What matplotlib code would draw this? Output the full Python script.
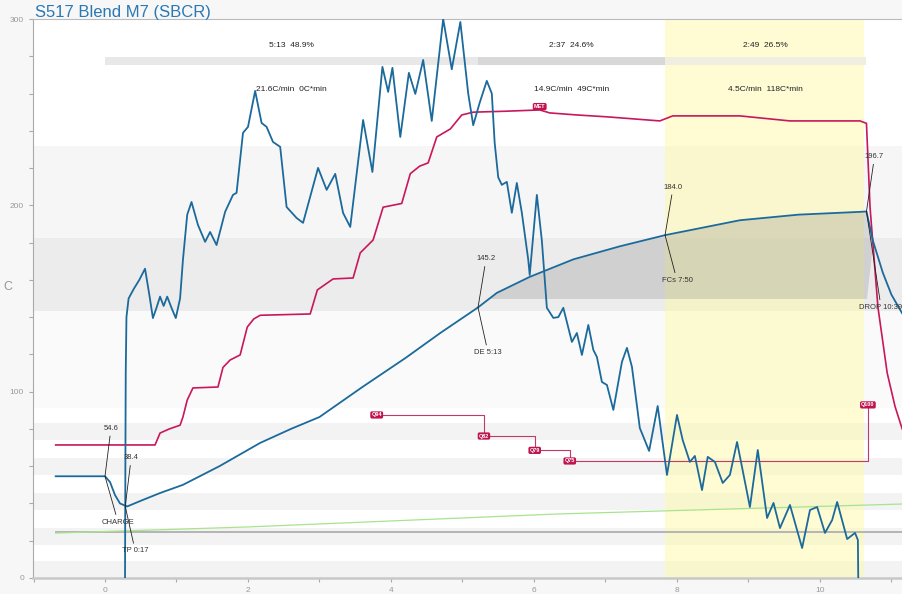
import matplotlib
matplotlib.use('Agg')
import matplotlib.pyplot as plt
import numpy as np

plt.rcParams['font.family'] = ['Liberation Sans', 'DejaVu Sans']

# ---- data ----
title = 'S517 Blend M7 (SBCR)'

bt_t = [-0.69, -0.3, 0.0, 0.07, 0.14, 0.21, 0.31, 0.53, 0.77, 1.09, 1.6, 2.17, 2.6, 3.0, 3.6,
        4.2, 4.69, 5.217, 5.48, 5.94, 6.55, 7.2, 7.833, 8.88, 9.7, 10.56, 10.65, 10.74, 10.88,
        11.0, 11.15]
bt = [54.6, 54.6, 54.6, 51.5, 44.5, 40.0, 38.4, 41.9, 45.6, 50.0, 60.0, 72.5, 80.0, 86.4, 102.5,
      118.0, 131.5, 145.2, 153.0, 161.6, 171.0, 178.0, 184.0, 192.0, 195.0, 196.5, 196.7, 181.0,
      163.7, 152.0, 142.0]

et_t = [-0.69, 0.7, 0.77, 0.9, 1.05, 1.09, 1.15, 1.23, 1.58, 1.65, 1.75, 1.89, 1.99, 2.08, 2.17,
        2.87, 2.97, 3.19, 3.47, 3.57, 3.75, 3.89, 4.15, 4.27, 4.4, 4.52, 4.64, 4.83, 4.99, 5.15,
        5.6, 6.08, 6.22, 6.6, 7.02, 7.76, 7.94, 8.88, 9.58, 10.56, 10.65, 10.7, 10.81, 10.94,
        11.05, 11.15]
et = [71.4, 71.4, 77.8, 80.0, 82.0, 86.4, 95.5, 102.0, 102.5, 113.0, 117.0, 119.7, 134.7, 139.0,
      141.0, 141.7, 154.6, 160.5, 161.0, 174.5, 181.4, 199.0, 201.0, 217.0, 221.0, 222.8, 236.7,
      241.0, 248.5, 250.0, 250.5, 251.2, 249.6, 248.5, 247.5, 245.3, 248.0, 248.0, 245.3, 245.3,
      244.0, 199.0, 145.5, 110.0, 92.0, 80.0]

ror_t = [0.28, 0.285, 0.29, 0.30, 0.33, 0.40, 0.48, 0.56, 0.62, 0.67, 0.72, 0.77, 0.82, 0.87,
         0.93, 0.99, 1.05, 1.09, 1.15, 1.21, 1.30, 1.40, 1.47, 1.56, 1.68, 1.79, 1.84, 1.93,
         2.00, 2.10, 2.19, 2.26, 2.35, 2.45, 2.54, 2.68, 2.77, 2.98, 3.10, 3.22, 3.33, 3.43,
         3.61, 3.74, 3.88, 3.96, 4.02, 4.13, 4.25, 4.34, 4.45, 4.57, 4.73, 4.85, 4.97, 5.08,
         5.15, 5.24, 5.34, 5.41, 5.45, 5.50, 5.55, 5.62, 5.69, 5.76, 5.83, 5.92, 5.94, 6.04,
         6.11, 6.18, 6.27, 6.34, 6.41, 6.53, 6.60, 6.67, 6.76, 6.83, 6.88, 6.95, 7.02, 7.11,
         7.23, 7.30, 7.37, 7.48, 7.61, 7.73, 7.86, 8.00, 8.08, 8.18, 8.25, 8.35, 8.43, 8.53,
         8.64, 8.74, 8.84, 9.02, 9.13, 9.26, 9.35, 9.44, 9.58, 9.75, 9.86, 9.96, 10.07, 10.17,
         10.24, 10.38, 10.49, 10.53, 10.535]
ror = [0, 60, 110, 140, 150, 155, 160, 166, 152, 139.5, 145, 151, 146, 151,
       145, 139.5, 150, 170.7, 195, 201.8, 189.5, 180.4, 185.7, 178.7, 196.5, 205.6, 206.7, 238.9,
       242.1, 261.4, 244.2, 242.1, 234, 231.4, 199.1, 193.2, 190.6, 220.1, 208.3, 216.9, 195.9, 188.4,
       245.8, 217.9, 274.3, 260.9, 273.8, 236.7, 271.1, 259.8, 278, 245.3, 300, 273, 298.4, 260,
       243, 255, 266.8, 260, 233.5, 215, 211, 212.6, 196, 212, 196, 170.7, 162.6, 205.6,
       181, 145, 139.6, 140, 145, 126.7, 131.5, 119.7, 135.8, 122.4, 118.6, 105.2, 103.6, 90.2,
       116, 123.5, 113.3, 80.5, 68.2, 92.3, 55.3, 87.5, 74, 62.3, 65.5, 47.2, 65, 62.3,
       51, 55.3, 73, 38.1, 68.7, 32.2, 40.3, 26.8, 39.2, 16.1, 36.5, 38.1, 24.2, 31.1,
       40.8, 20.9, 24.2, 20.4, 0]

green_t = [-0.69, 2.0, 6.36, 11.15]
green = [24.1, 27.4, 34.4, 39.7]
gray_t = [-0.69, 11.15]
gray = [24.6, 24.6]

# events: name, time (min), BT
events = ['CHARGE', 'TP 0:17', 'DE 5:13', 'FCs 7:50', 'DROP 10:39']
event_t = [0.0, 0.283, 5.217, 7.833, 10.65]
event_bt = [54.6, 38.4, 145.2, 184.0, 196.7]

# phases
phase_edges = [0.0, 5.217, 7.833, 10.65]
phase_top = ['5:13  48.9%', '2:37  24.6%', '2:49  26.5%']
phase_rate = ['21.6C/min  0C*min', '14.9C/min  49C*min', '4.5C/min  118C*min']

# burner events
q_labels = ['Q94', 'Q82', 'Q79', 'Q75', 'Q100']
q_t = [3.80, 5.30, 6.01, 6.50, 10.67]
q_level = [87.5, 76.2, 68.5, 62.8, 92.9]

met_t, met_v = 6.08, 253.0

# ---- figure ----
blue = '#1b6a9b'
crimson = '#c8175a'

fig = plt.figure(figsize=(9.02, 5.94), dpi=100, facecolor='#f7f7f7')
ax = fig.add_axes([33 / 902, 16 / 594, 869 / 902, 559 / 594])
ax.set_facecolor('white')
ax.set_xlim(-1.007, 11.147)
ax.set_ylim(0, 300)

# background bands
ax.axhspan(182.5, 232, color='#f6f6f6', lw=0, zorder=0)
ax.axhspan(143.3, 182.5, color='#ececec', lw=0, zorder=0)
ax.axhspan(91, 143.3, color='#fafafa', lw=0, zorder=0)
for lo in [0, 17.7, 36.5, 55.3, 74.1]:
    ax.axhspan(lo, lo + 9.1, color='#f3f3f3', lw=0, zorder=0)

# development (yellow) region
ax.axvspan(phase_edges[2], 10.62, color='#fffaa0', alpha=0.45, lw=0, zorder=0.5)

# shaded area under BT
bt_arr = np.array(bt_t)
bt_v = np.array(bt)
ax.fill_between(bt_arr, bt_v, 150, where=(bt_v >= 150) & (bt_arr <= 10.65),
                interpolate=True, color='#6e6e6e', alpha=0.22, lw=0, zorder=1)

# phase bar
bar_cols = ['#e8e8e8', '#d8d8d8', '#efeee0']
for i in range(3):
    a, b = phase_edges[i], phase_edges[i + 1]
    ax.fill_between([a, b], 275.4, 279.7, color=bar_cols[i], lw=0, zorder=1)
    mid = (a + b) / 2
    ax.text(mid, 285.6, phase_top[i], ha='center', va='center', fontsize=6, color='#222')
    ax.text(mid, 262, phase_rate[i], ha='center', va='center', fontsize=6, color='#222')

# lines
ax.plot(gray_t, gray, color='#b4b4b4', lw=1.4, zorder=2)
ax.plot(green_t, green, color='#a9e38e', lw=0.9, zorder=2)
ax.plot(et_t, et, color=crimson, lw=1.2, zorder=3, solid_joinstyle='round')
ax.plot(bt_t, bt, color=blue, lw=1.3, zorder=4, solid_joinstyle='round')
ax.plot(ror_t, ror, color=blue, lw=1.3, zorder=4, solid_joinstyle='round')

# burner steps
sx, sy = [], []
for i in range(len(q_t)):
    if i > 0:
        sx.append(q_t[i])
        sy.append(q_level[i - 1])
    sx.append(q_t[i])
    sy.append(q_level[i])
ax.plot(sx, sy, color='#c23a63', lw=0.8, zorder=3)
label_box = dict(boxstyle='round,pad=0.2,rounding_size=0.3', fc='#c0144f', ec='none')
for lab, t, v in zip(q_labels, q_t, q_level):
    ax.text(t, v, lab, ha='center', va='center', fontsize=4, color='white',
            fontweight='bold', bbox=label_box, zorder=6)
ax.text(met_t, met_v, 'MET', ha='center', va='center', fontsize=4, color='white',
        fontweight='bold', bbox=label_box, zorder=6)

# event annotations (offsets in points)
up_off = [(4.3, 34.5), (4.3, 35), (5.8, 35), (5.8, 34.5), (5.8, 39.5)]
dn_off = [(9.4, -33), (7.2, -32), (7.2, -32.5), (8.6, -32.5), (10.5, -69)]
lineprops = dict(arrowstyle='-', color='#222', lw=0.6, shrinkA=1, shrinkB=0)
for name, t, v, uo, do in zip(events, event_t, event_bt, up_off, dn_off):
    ax.annotate(f'{v:.1f}', xy=(t, v), xytext=uo, textcoords='offset points',
                ha='center', va='center', fontsize=5.5, color='#333',
                arrowprops=lineprops, zorder=7)
    ax.annotate(name, xy=(t, v), xytext=do, textcoords='offset points',
                ha='center', va='center', fontsize=5.5, color='#333',
                arrowprops=lineprops, zorder=7)

# axes styling
ax.spines['right'].set_visible(False)
ax.spines['left'].set_color('#aaaaaa')
ax.spines['left'].set_linewidth(0.8)
ax.spines['top'].set_color('#bbbbbb')
ax.spines['top'].set_linewidth(0.8)
ax.spines['bottom'].set_color('#c8c8c8')
ax.spines['bottom'].set_linewidth(1.8)

ax.set_xticks([0, 2, 4, 6, 8, 10])
ax.set_xticks(np.arange(-1, 12, 1), minor=True)
ax.set_yticks([0, 100, 200, 300])
ax.set_yticks(np.arange(0, 301, 20), minor=True)
ax.tick_params(which='both', direction='out', colors='#aaaaaa', labelcolor='#999999',
               labelsize=6, length=3, width=0.8)
ax.set_ylabel('C', color='#999999', fontsize=9, rotation=0, labelpad=12)
ax.yaxis.set_label_coords(-25 / 869, 0.51)

fig.text(35 / 902, 1 - 12 / 594, title, color='#2a78b4', fontsize=12, va='center', ha='left')

fig.savefig('out.png', dpi=100, facecolor=fig.get_facecolor())
